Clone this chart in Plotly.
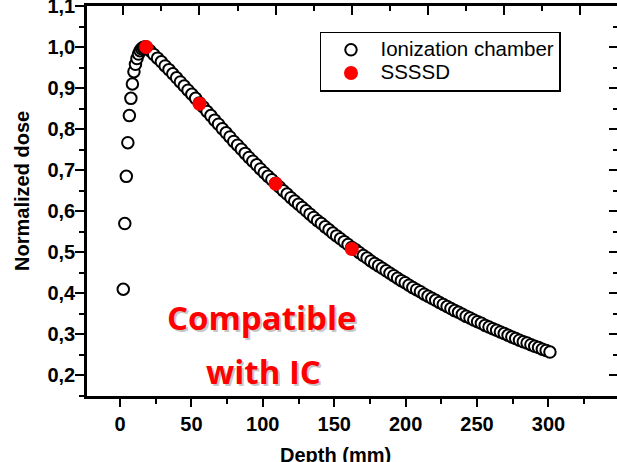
import plotly.graph_objects as go

# ---------------- data ----------------
ic_depth = [0, 1, 2, 3, 4, 5, 6, 7, 8, 9, 10, 11, 12, 13, 14, 15,
            17.5, 20, 22.5, 25, 27.5, 30, 32.5, 35, 37.5, 40, 42.5, 45, 47.5, 50,
            52.5, 55, 57.5, 60, 62.5, 65, 67.5, 70, 72.5, 75, 77.5, 80, 82.5, 85,
            87.5, 90, 92.5, 95, 97.5, 100, 102.5, 105, 107.5, 110, 112.5, 115,
            117.5, 120, 122.5, 125, 127.5, 130, 132.5, 135, 137.5, 140, 142.5,
            145, 147.5, 150, 152.5, 155, 157.5, 160, 162.5, 165, 167.5, 170,
            172.5, 175, 177.5, 180, 182.5, 185, 187.5, 190, 192.5, 195, 197.5,
            200, 202.5, 205, 207.5, 210, 212.5, 215, 217.5, 220, 222.5, 225,
            227.5, 230, 232.5, 235, 237.5, 240, 242.5, 245, 247.5, 250, 252.5,
            255, 257.5, 260, 262.5, 265, 267.5, 270, 272.5, 275, 277.5, 280]
ic_dose = [0.410, 0.570, 0.685, 0.767, 0.833, 0.875, 0.910, 0.940, 0.958, 0.972,
           0.983, 0.991, 0.996, 0.999, 1.000, 1.000,
           0.991, 0.982, 0.973, 0.964, 0.954, 0.945, 0.935, 0.925, 0.915, 0.905,
           0.895, 0.885, 0.875, 0.864,
           0.854, 0.843, 0.833, 0.822, 0.812, 0.801, 0.791, 0.781, 0.770, 0.761,
           0.751, 0.741, 0.731, 0.722, 0.713, 0.703, 0.694, 0.685, 0.677, 0.668,
           0.659, 0.650, 0.642, 0.633, 0.625, 0.617, 0.609, 0.601, 0.593, 0.585,
           0.577, 0.570, 0.562, 0.555, 0.547, 0.540, 0.533, 0.526, 0.519, 0.512,
           0.506, 0.499, 0.492, 0.486, 0.479, 0.473, 0.467, 0.461, 0.455, 0.449,
           0.443, 0.437, 0.431, 0.426, 0.420, 0.414, 0.409, 0.404, 0.398, 0.393,
           0.388, 0.383, 0.378, 0.373, 0.368, 0.363, 0.358, 0.354, 0.349, 0.344,
           0.340, 0.335, 0.331, 0.327, 0.322, 0.318, 0.314, 0.310, 0.306, 0.302,
           0.298, 0.294, 0.290, 0.286, 0.282, 0.279, 0.275, 0.271, 0.268, 0.264,
           0.261, 0.257]

ssssd_depth = [15, 50, 100, 150]
ssssd_dose = [1.000, 0.862, 0.667, 0.508]

x_tickvals = [0, 50, 100, 150, 200, 250, 300]
x_ticktext = ["0", "50", "100", "150", "200", "250", "300"]
y_tickvals = [0.2, 0.3, 0.4, 0.5, 0.6, 0.7, 0.8, 0.9, 1.0, 1.1]
y_ticktext = ["0,2", "0,3", "0,4", "0,5", "0,6", "0,7", "0,8", "0,9", "1,0", "1,1"]

FONT = "Liberation Sans, Arial, sans-serif"
LEG = '<span style="font-size:20.5px">{}</span>'

fig = go.Figure()

fig.add_trace(go.Scatter(x=ic_depth, y=ic_dose, xaxis="x", yaxis="y",
                         mode="markers", name=LEG.format("Ionization chamber"),
                         marker=dict(symbol="circle", size=11.5, color="white",
                                     line=dict(color="black", width=2))))
fig.add_trace(go.Scatter(x=ssssd_depth, y=ssssd_dose, xaxis="x", yaxis="y",
                         mode="markers", name=LEG.format("SSSSD"),
                         marker=dict(symbol="circle", size=14, color="#ff0000",
                                     line=dict(width=0))))

# helper (invisible) trace so the labelled bottom axis and right axis are drawn
fig.add_trace(go.Scatter(x=[x_tickvals[0]], y=[y_tickvals[0]], xaxis="x2", yaxis="y2",
                         mode="markers", marker=dict(opacity=0), showlegend=False,
                         hoverinfo="skip"))

tickfont = dict(family=FONT, size=20, color="black", weight="bold")

fig.update_layout(
    width=617, height=462,
    margin=dict(l=87, r=0, t=6, b=66),
    paper_bgcolor="white", plot_bgcolor="white",
    showlegend=True,
    # top axis: carries the data scale
    xaxis=dict(range=[-23.8, 324], side="top", anchor="y",
               tickmode="linear", tick0=0, dtick=50, ticks="inside", ticklen=9,
               tickwidth=2, tickcolor="black", showticklabels=False,
               showline=True, linewidth=2.5, linecolor="black", showgrid=False,
               zeroline=False, automargin=False,
               minor=dict(ticks="inside", ticklen=5, tickwidth=2, dtick=25,
                          tick0=0, tickcolor="black", showgrid=False)),
    # bottom axis: labelled
    xaxis2=dict(range=[-23.1, 348], overlaying="x", side="bottom", anchor="y",
                tickmode="array", tickvals=x_tickvals,
                ticktext=x_ticktext, ticks="outside", ticklen=8, tickwidth=2,
                tickcolor="black", showline=True, linewidth=2.5, linecolor="black",
                showgrid=False, zeroline=False, tickfont=tickfont, automargin=False,
                minor=dict(ticks="outside", ticklen=5, tickwidth=2, dtick=25,
                           tick0=0, tickcolor="black", showgrid=False)),
    yaxis=dict(range=[0.15, 1.1], tickmode="array", tickvals=y_tickvals,
               ticktext=y_ticktext, ticks="outside", ticklen=9, tickwidth=2,
               tickcolor="black", showline=True, linewidth=2.5, linecolor="black",
               showgrid=False, zeroline=False, tickfont=tickfont,
               ticklabeloverflow="allow", ticklabelstandoff=-4, automargin=False,
               minor=dict(ticks="outside", ticklen=5, tickwidth=2, dtick=0.05,
                          tick0=0, tickcolor="black", showgrid=False)),
    yaxis2=dict(range=[0.15, 1.1], overlaying="y", side="right", anchor="x",
                tickmode="linear", tick0=0, dtick=0.1, ticks="inside", ticklen=8,
                tickwidth=2, tickcolor="black", showticklabels=False,
                showline=False, showgrid=False, zeroline=False, automargin=False,
                minor=dict(ticks="inside", ticklen=4, tickwidth=2, dtick=0.05,
                           tick0=0, tickcolor="black", showgrid=False)),
    legend=dict(x=0.4396, y=0.934, xanchor="left", yanchor="top",
                bgcolor="white", bordercolor="black", borderwidth=1.5,
                font=dict(family=FONT, size=15.5, color="black"),
                itemwidth=49, tracegroupgap=0),
)

# axis titles
fig.add_annotation(text="Normalized dose", xref="paper", yref="paper",
                   x=-0.1226, y=0.526, textangle=-90, showarrow=False,
                   xanchor="center", yanchor="middle",
                   font=dict(family=FONT, size=20, color="black", weight="bold"))
fig.add_annotation(text="Depth (mm)", xref="paper", yref="paper",
                   x=0.468, y=-0.152, showarrow=False,
                   xanchor="center", yanchor="middle",
                   font=dict(family=FONT, size=20, color="black", weight="bold"))

# "Compatible with IC" label with a soft shadow
for txt, xx, yy in [("Compatible", 91, 0.341), ("with IC", 92, 0.2095)]:
    fig.add_annotation(text=txt, xref="x", yref="y", x=xx, y=yy, showarrow=False,
                       xshift=2, yshift=-2,
                       font=dict(family="Open Sans", size=33, color="rgba(0,0,0,0.22)",
                                 weight="bold"))
    fig.add_annotation(text=txt, xref="x", yref="y", x=xx, y=yy, showarrow=False,
                       font=dict(family="Open Sans", size=33, color="#ff0000",
                                 weight="bold"))

fig.write_html("out.html")
